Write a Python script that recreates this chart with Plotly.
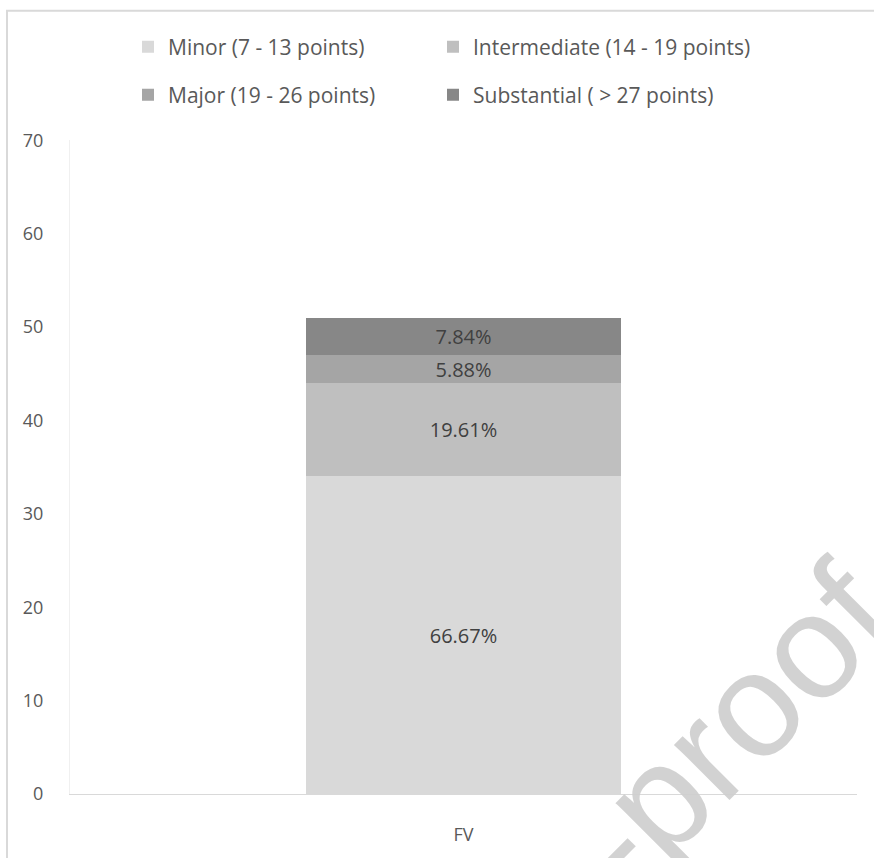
import plotly.graph_objects as go

# Severity bands for the FV group (respondent counts)
categories = ["FV"]
band_names = [
    "Minor (7 - 13 points)",
    "Intermediate (14 - 19 points)",
    "Major (19 - 26 points)",
    "Substantial ( > 27 points)",
]
band_counts = [34, 10, 3, 4]
band_colors = ["#d9d9d9", "#bfbfbf", "#a5a5a5", "#878787"]
y_ticks = [0, 10, 20, 30, 40, 50, 60, 70]

W, H = 874, 858
ML, MR, MT, MB = 70, 17, 138, 58
PW, PH = W - ML - MR, H - MT - MB

total = sum(band_counts)
font_family = "Open Sans, Liberation Sans, sans-serif"

# one single-entry legend per band so the 2x2 key can be placed freely
legend_ids = ["legend", "legend2", "legend3", "legend4"]
legend_pos = [(128, 47), (433, 47), (128, 95), (433, 95)]

fig = go.Figure()
for name, count, color, lid in zip(band_names, band_counts, band_colors, legend_ids):
    pct = count / total * 100
    fig.add_trace(go.Bar(
        x=categories,
        y=[count],
        name=name,
        legend=lid,
        marker=dict(color=color, line=dict(width=0)),
        text=[f"{pct:.2f}%"],
        textposition="inside",
        insidetextanchor="middle",
        textfont=dict(family=font_family, size=20, color="#404040"),
        hoverinfo="skip",
    ))


def px_x(x):
    return (x - ML) / PW


def px_y(y):
    return (H - MB - y) / PH


# outer frame: only its top and left edges fall inside the figure
fig.add_shape(type="rect", xref="paper", yref="paper",
              x0=px_x(7), x1=px_x(W + 20), y0=px_y(7), y1=px_y(H + 20),
              line=dict(color="#d9d9d9", width=2),
              fillcolor="rgba(0,0,0,0)", layer="below")

# diagonal watermark
fig.add_annotation(
    text="Journal Pre-proof", xref="paper", yref="paper",
    x=px_x(462), y=px_y(1003), xanchor="center", yanchor="middle",
    textangle=-45, showarrow=False,
    font=dict(family="Liberation Sans, Arial, sans-serif", size=148,
              color="rgba(205,205,205,0.9)"),
)

legend_style = dict(
    orientation="h",
    xref="container", yref="container",
    xanchor="left", yanchor="middle",
    font=dict(family=font_family, size=21, color="#595959"),
    bgcolor="rgba(0,0,0,0)",
)
legends = {
    lid: dict(legend_style, x=lx / W, y=1 - ly / H)
    for lid, (lx, ly) in zip(legend_ids, legend_pos)
}

fig.update_layout(
    width=W, height=H,
    margin=dict(l=ML, r=MR, t=MT, b=MB, pad=0),
    paper_bgcolor="white", plot_bgcolor="white",
    barmode="stack",
    bargap=0.6,
    showlegend=True,
    uniformtext=dict(minsize=20, mode="show"),
    xaxis=dict(
        showline=True, linecolor="#d9d9d9", linewidth=1,
        ticks="", showgrid=False, zeroline=False,
        ticklabelstandoff=24,
        tickfont=dict(family=font_family, size=18, color="#595959"),
    ),
    yaxis=dict(
        range=[0, 70], tickvals=y_ticks,
        showline=True, linecolor="#f0f0f0", linewidth=1,
        showgrid=False, zeroline=False, ticks="",
        ticklabelstandoff=22,
        tickfont=dict(family=font_family, size=18, color="#595959"),
    ),
    **legends,
)

fig.write_html("out.html")
